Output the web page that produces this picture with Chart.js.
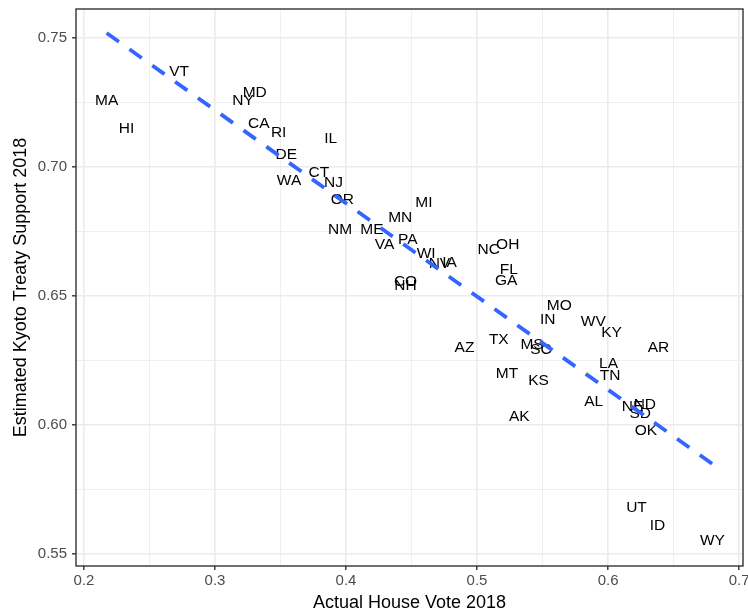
<!DOCTYPE html>
<html>
<head>
<meta charset="utf-8">
<script src="https://cdn.jsdelivr.net/npm/chart.js@4.4.1/dist/chart.umd.min.js"></script>
<style>
  html, body { margin: 0; padding: 0; background: #fff; }
  canvas { display: block; }
</style>
</head>
<body>
<canvas id="kyotoChart" width="748" height="614"></canvas>
<script>
// state labels, house vote share and estimated support
const states = ['MA','HI','VT','MD','NY','CA','RI','IL','DE','WA',
                'CT','NJ','OR','NM','ME','VA','MI','MN','PA','WI',
                'NV','IA','CO','NH','NC','OH','FL','GA','MO','IN',
                'WV','KY','AR','AZ','TX','MS','SC','LA','TN','MT',
                'KS','AL','NE','ND','SD','OK','AK','UT','ID','WY'];
const houseVote = [0.2173,0.2325,0.2726,0.3303,0.3214,0.3334,0.3486,0.3883,0.3544,0.3565,
                   0.3793,0.3905,0.3972,0.3954,0.4198,0.4294,0.4594,0.4414,0.4472,0.4612,
                   0.4713,0.4790,0.4454,0.4454,0.5089,0.5234,0.5242,0.5222,0.5628,0.5539,
                   0.5887,0.6027,0.6385,0.4904,0.5166,0.5420,0.5488,0.6004,0.6015,0.5229,
                   0.5470,0.5890,0.6187,0.6281,0.6246,0.6289,0.5323,0.6217,0.6377,0.6797];
const kyotoSupport = [0.7256,0.7149,0.7368,0.7287,0.7256,0.7166,0.7130,0.7108,0.7048,0.6945,
                      0.6977,0.6940,0.6871,0.6758,0.6758,0.6700,0.6859,0.6801,0.6719,0.6662,
                      0.6626,0.6629,0.6553,0.6538,0.6680,0.6697,0.6603,0.6559,0.6461,0.6409,
                      0.6400,0.6359,0.6299,0.6299,0.6332,0.6310,0.6290,0.6239,0.6191,0.6200,
                      0.6170,0.6090,0.6071,0.6080,0.6045,0.5978,0.6032,0.5681,0.5610,0.5552];

// linear fit endpoints
const fitX = [0.2173, 0.6797];
const fitY = [0.7518, 0.5849];

// axis ticks (major labelled, minor only gridlines)
const xMajor = [0.2, 0.3, 0.4, 0.5, 0.6, 0.7];
const xMinor = [0.25, 0.35, 0.45, 0.55, 0.65];
const yMajor = [0.55, 0.60, 0.65, 0.70, 0.75];
const yMinor = [0.575, 0.625, 0.675, 0.725];

Chart.defaults.font.family = "'Liberation Sans', Arial, sans-serif";

const isMajor = (list, v) => list.some(m => Math.abs(m - v) < 1e-6);

// draw the state abbreviations where the points sit
const stateText = {
    id: 'stateText',
    beforeDatasetsDraw(chart) {
        const ctx = chart.ctx;
        const meta = chart.getDatasetMeta(0);
        ctx.save();
        ctx.font = "15.5px 'Liberation Sans', Arial, sans-serif";
        ctx.fillStyle = '#000';
        ctx.textAlign = 'center';
        ctx.textBaseline = 'middle';
        meta.data.forEach((pt, i) => {
            ctx.fillText(states[i], pt.x, pt.y);
        });
        ctx.restore();
    }
};

// panel border on all four sides
const panelFrame = {
    id: 'panelFrame',
    afterDatasetsDraw(chart) {
        const { ctx, chartArea } = chart;
        ctx.save();
        ctx.strokeStyle = '#333333';
        ctx.lineWidth = 1.4;
        ctx.strokeRect(chartArea.left, chartArea.top,
            chartArea.right - chartArea.left, chartArea.bottom - chartArea.top);
        ctx.restore();
    }
};

const points = states.map((s, i) => ({ x: houseVote[i], y: kyotoSupport[i] }));
const fitLine = fitX.map((x, i) => ({ x: x, y: fitY[i] }));

new Chart(document.getElementById('kyotoChart'), {
    type: 'scatter',
    data: {
        datasets: [
            {
                label: 'states',
                data: points,
                pointRadius: 0,
                pointHoverRadius: 0
            },
            {
                label: 'fit',
                data: fitLine,
                showLine: true,
                borderColor: '#3366FF',
                borderWidth: 3.8,
                borderDash: [15, 13],
                borderCapStyle: 'butt',
                pointRadius: 0,
                pointHoverRadius: 0,
                fill: false
            }
        ]
    },
    options: {
        responsive: false,
        animation: false,
        layout: { padding: { left: 0, right: 5, top: 9, bottom: 0 } },
        plugins: {
            legend: { display: false },
            tooltip: { enabled: false }
        },
        scales: {
            x: {
                type: 'linear',
                min: 0.1939,
                max: 0.7030,
                afterBuildTicks(scale) {
                    scale.ticks = xMajor.concat(xMinor).sort((a, b) => a - b).map(v => ({ value: v }));
                },
                afterFit(scale) {
                    scale.height = 48;
                    scale.paddingLeft = 0;
                    scale.paddingRight = 0;
                },
                ticks: {
                    autoSkip: false,
                    maxRotation: 0,
                    padding: 2,
                    color: '#4D4D4D',
                    font: { size: 15 },
                    callback: v => isMajor(xMajor, v) ? v.toFixed(1) : ''
                },
                grid: {
                    color: '#EBEBEB',
                    lineWidth: c => (c.tick && isMajor(xMajor, c.tick.value)) ? 1.6 : 0.8,
                    tickLength: 4,
                    tickWidth: 1.4,
                    tickColor: c => (c.tick && isMajor(xMajor, c.tick.value)) ? '#333333' : 'rgba(0,0,0,0)'
                },
                border: { display: false },
                title: {
                    display: true,
                    text: 'Actual House Vote 2018',
                    color: '#000',
                    font: { size: 18 },
                    padding: { top: 0, bottom: 0 }
                }
            },
            y: {
                type: 'linear',
                min: 0.5454,
                max: 0.7611,
                afterBuildTicks(scale) {
                    scale.ticks = yMajor.concat(yMinor).sort((a, b) => a - b).map(v => ({ value: v }));
                },
                afterFit(scale) {
                    scale.width = 76;
                    scale.paddingTop = 0;
                    scale.paddingBottom = 0;
                },
                ticks: {
                    autoSkip: false,
                    padding: 5,
                    color: '#4D4D4D',
                    font: { size: 15 },
                    callback: v => isMajor(yMajor, v) ? v.toFixed(2) : ''
                },
                grid: {
                    color: '#EBEBEB',
                    lineWidth: c => (c.tick && isMajor(yMajor, c.tick.value)) ? 1.6 : 0.8,
                    tickLength: 4,
                    tickWidth: 1.4,
                    tickColor: c => (c.tick && isMajor(yMajor, c.tick.value)) ? '#333333' : 'rgba(0,0,0,0)'
                },
                border: { display: false },
                title: {
                    display: true,
                    text: 'Estimated Kyoto Treaty Support 2018',
                    color: '#000',
                    font: { size: 18 },
                    padding: { top: 10, bottom: 0 }
                }
            }
        }
    },
    plugins: [stateText, panelFrame]
});
</script>
</body>
</html>
